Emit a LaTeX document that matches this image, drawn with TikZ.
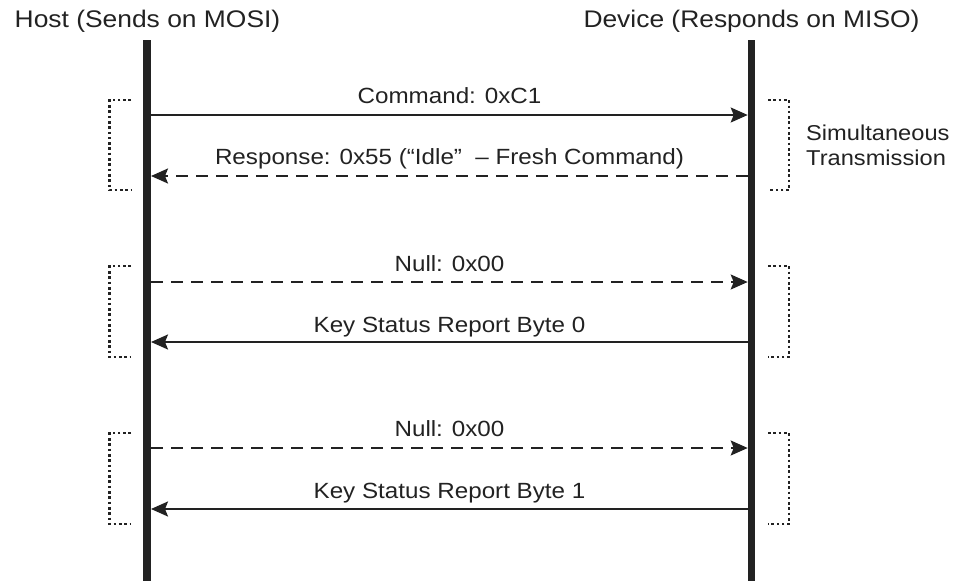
\documentclass[tikz,border=0pt]{standalone}
\usepackage{fontspec}
\setmainfont[FakeStretch=1.1]{Liberation Sans}
\usetikzlibrary{arrows.meta}
\definecolor{ink}{HTML}{222222}
\begin{document}
\begin{tikzpicture}[x=1pt,y=-1pt,
  hdr/.style={font=\fontsize{24}{28}\selectfont, text=ink, anchor=base, inner sep=0pt},
  lbl/.style={font=\fontsize{22}{26}\selectfont, text=ink, anchor=base, inner sep=0pt},
  note/.style={font=\fontsize{21.5}{25.5}\selectfont, text=ink, anchor=north west, inner sep=0pt, align=left},
  lifeline/.style={draw=ink, line width=7.5pt},
  msg/.style={draw=ink, line width=2pt, -{Stealth[length=17pt,width=15pt,inset=3pt]}},
  msgdash/.style={msg, dash pattern=on 12pt off 8pt},
  brk/.style={draw=ink, line width=2.6pt, dash pattern=on 2.6pt off 2.7pt}]
\useasboundingbox (0,0) rectangle (954,581);
% headers
\node[hdr] (host) at (147.5,27.5) {Host (Sends on MOSI)};
\node[hdr] (dev) at (751.5,27.5) {Device (Responds on MISO)};
% lifelines
\coordinate (htop) at (147.2,40);
\coordinate (hbot) at (147.2,581);
\coordinate (dtop) at (751.5,40);
\coordinate (dbot) at (751.5,581);
\draw[lifeline] (htop) -- (hbot);
\draw[lifeline] (dtop) -- (dbot);
% message endpoints
\foreach \n/\y in {1/115,2/176,3/282,4/342,5/448,6/509}{
  \coordinate (h\n) at (151,\y);
  \coordinate (d\n) at (747.7,\y);
}
\draw[msg] (h1) -- (d1);
\draw[msgdash] (d2) -- (h2);
\draw[msgdash] (h3) -- (d3);
\draw[msg] (d4) -- (h4);
\draw[msgdash] (h5) -- (d5);
\draw[msg] (d6) -- (h6);
% labels
\node[lbl] (l1) at (449.5,103.5) {Command: 0xC1};
\node[lbl] (l2) at (449.5,164.5) {Response: 0x55 (“Idle”\ \ – Fresh Command)};
\node[lbl] (l3) at (449.5,271) {Null: 0x00};
\node[lbl] (l4) at (449.5,332) {Key Status Report Byte 0};
\node[lbl] (l5) at (449.5,436) {Null: 0x00};
\node[lbl] (l6) at (449.5,498) {Key Status Report Byte 1};
% brackets
\foreach \t/\b in {100/190,266/357,433/524}{
  \draw[brk] (131,\t) -- (109.5,\t) -- (109.5,\b) -- (131,\b);
  \draw[brk] (768,\t) -- (789,\t) -- (789,\b) -- (768,\b);
}
\node[note] (sim) at (806,124.5) {Simultaneous\\Transmission};
\end{tikzpicture}
\end{document}
